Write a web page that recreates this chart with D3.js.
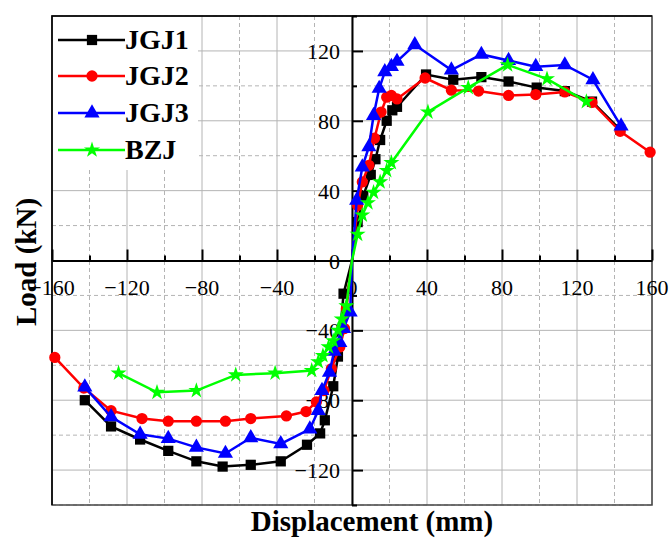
<!DOCTYPE html>
<html>
<head>
<meta charset="utf-8">
<script src="https://cdn.jsdelivr.net/npm/d3@7"></script>
<style>
  body { margin: 0; background: #fff; }
  svg { display: block; }
</style>
</head>
<body>
<script>
// skeleton curves, [displacement mm, load kN]
const jgj1 = [[-142.5,-80],[-128.5,-95],[-113,-102.5],[-98,-109],[-83,-115],[-69,-118],[-54,-117],[-38,-115],
  [-24,-105.5],[-17,-99],[-14.5,-91.5],[-10,-72],[-7.5,-55],[-4.5,-19],[0,0],[3,22],[6,37],[10,49],[12.5,58],
  [15,69],[18.5,80],[21.5,86],[24,88],[39.5,106.5],[54,103.5],[69,105],[83.5,102.5],[98.5,99],[113.5,97],[128,91],[143,75]];
const jgj2 = [[-158.5,-55.5],[-143,-73],[-128.5,-86],[-112,-90.5],[-98,-92],[-83,-92],[-67.5,-92],[-54,-90.5],
  [-35,-89],[-24.5,-86.5],[-19,-81],[-15,-74.5],[-11,-62],[-6.5,-49.5],[-4,-39],[-3,-27.5],[0,0],[3,31.5],
  [5.5,45],[9,54.5],[12,70],[15.5,85],[18.5,93.5],[21,94.5],[24,92.5],[39,104.5],[53,97.5],[67.5,97],
  [83.5,94.5],[98,95],[113.5,96.5],[128,90.5],[143,74],[159,62]];
const jgj3 = [[-142.5,-72.5],[-128.5,-89.5],[-113,-99.5],[-98,-102],[-83,-107],[-67.5,-110.5],[-54,-101.5],
  [-38,-105],[-22.5,-96.5],[-18,-86],[-16,-74.5],[-12,-64],[-9.5,-52],[-6.5,-47],[-4.5,-39],[-1,-29.5],[0,0],
  [2.5,34.5],[5.5,53.5],[9,65],[11.5,83],[14.5,98.5],[17.5,108],[21,111],[24,114],[33.5,123.5],[53,109],
  [69,118],[83.5,114.5],[98,111],[113.5,112],[128.5,103.5],[143.5,77]];
const bzj = [[-124.5,-64.5],[-104,-75.5],[-83,-74.5],[-62,-65.5],[-41,-64.5],[-21.5,-63],[-18,-58],[-15.5,-54.5],
  [-12.5,-49.5],[-10,-46],[-7.5,-40],[-5.5,-33.5],[-3,-26],[0,0],[3,15],[5.5,26],[8.5,33],[11.5,39],[15,45],
  [18.5,51.5],[21,56],[40.5,85],[62,99],[83,112],[104,104],[125,91]];

const seriesNames = ["JGJ1", "JGJ2", "JGJ3", "BZJ"];
const xTicks = [-160, -120, -80, -40, 0, 40, 80, 120, 160];
const yTicks = [-120, -80, -40, 0, 40, 80, 120];

const width = 670, height = 540;
const margin = {left: 52, right: 18, top: 16, bottom: 35};
const serif = "'Liberation Serif', 'Times New Roman', serif";
const seriesStyle = [
  {color: "#000000", symbol: d3.symbolSquare, size: 105},
  {color: "#ff0000", symbol: d3.symbolCircle, size: 100},
  {color: "#0000ff", symbol: d3.symbolTriangle, size: 100},
  {color: "#00ff00", symbol: d3.symbolStar, size: 80}
];

const svg = d3.select("body").append("svg")
  .attr("width", width)
  .attr("height", height);

const x = d3.scaleLinear().domain([-160, 160]).range([margin.left, width - margin.right]);
const y = d3.scaleLinear().domain([-140, 140]).range([height - margin.bottom, margin.top]);

// axis titles (drawn first, the -160 label sits on top of the y title)
svg.append("text")
  .attr("x", 372).attr("y", 531)
  .attr("text-anchor", "middle")
  .style("font-family", serif)
  .style("font-weight", "bold")
  .style("font-size", "29px")
  .text("Displacement (mm)");

svg.append("text")
  .attr("transform", `translate(36,262) rotate(-90)`)
  .attr("text-anchor", "middle")
  .style("font-family", serif)
  .style("font-weight", "bold")
  .style("font-size", "29px")
  .text("Load (kN)");

// grid: solid at labelled ticks, dashed halfway between
const grid = svg.append("g");
d3.range(-160, 161, 20).forEach(v => {
  grid.append("line")
    .attr("x1", x(v)).attr("x2", x(v)).attr("y1", y(140)).attr("y2", y(-140))
    .attr("stroke", "#b4b4b4").attr("stroke-width", 1)
    .attr("stroke-dasharray", v % 40 === 0 ? null : "4,3");
});
d3.range(-140, 141, 20).forEach(v => {
  grid.append("line")
    .attr("y1", y(v)).attr("y2", y(v)).attr("x1", x(-160)).attr("x2", x(160))
    .attr("stroke", "#b4b4b4").attr("stroke-width", 1)
    .attr("stroke-dasharray", v % 40 === 0 ? null : "4,3");
});

// legend background hides the grid behind it
svg.append("rect")
  .attr("x", x(-160)).attr("y", y(140))
  .attr("width", 146).attr("height", 154)
  .attr("fill", "#fff");

// frame
svg.append("rect")
  .attr("x", x(-160)).attr("y", y(140))
  .attr("width", x(160) - x(-160)).attr("height", y(-140) - y(140))
  .attr("fill", "none").attr("stroke", "#444").attr("stroke-width", 1.5);
svg.append("path")
  .attr("d", `M${x(-160)},${y(-140)}V${y(140)}H${x(160)}`)
  .attr("fill", "none").attr("stroke", "#000").attr("stroke-width", 1.5);

// axes through the origin, ticks pointing inward
const xAxis = d3.axisTop(x).tickValues(d3.range(-160, 161, 20)).tickFormat("")
  .tickSizeOuter(0).tickSizeInner(5);
const xAxisG = svg.append("g").attr("transform", `translate(0,${y(0)})`).call(xAxis);
xAxisG.selectAll(".tick line").attr("y2", d => d % 40 === 0 ? -11 : -5);
const yAxis = d3.axisRight(y).tickValues(d3.range(-140, 141, 20)).tickFormat("")
  .tickSizeOuter(0).tickSizeInner(5);
const yAxisG = svg.append("g").attr("transform", `translate(${x(0)},0)`).call(yAxis);
yAxisG.selectAll(".tick line").attr("x2", d => d % 40 === 0 ? 11 : 5);
[xAxisG, yAxisG].forEach(g => {
  g.selectAll("line, path").attr("stroke", "#000").attr("stroke-width", 2);
});

const fmt = v => v < 0 ? "\u2212" + Math.abs(v) : String(v);

svg.append("g").selectAll("text")
  .data(xTicks).enter().append("text")
  .attr("x", d => x(d)).attr("y", y(0) + 34)
  .attr("text-anchor", "middle")
  .style("font-family", serif)
  .style("font-size", "22px")
  .text(fmt);

svg.append("g").selectAll("text")
  .data(yTicks).enter().append("text")
  .attr("x", x(0) - 12).attr("y", d => y(d) + 8)
  .attr("text-anchor", "end")
  .style("font-family", serif)
  .style("font-size", "22px")
  .text(fmt);

// series
const allSeries = [jgj1, jgj2, jgj3, bzj];
const line = d3.line().x(d => x(d[0])).y(d => y(d[1]));

allSeries.forEach((data, i) => {
  const st = seriesStyle[i];
  const g = svg.append("g");
  g.append("path")
    .datum(data)
    .attr("d", line)
    .attr("fill", "none")
    .attr("stroke", st.color)
    .attr("stroke-width", 2.5);
  g.selectAll("path.pt")
    .data(data.filter(d => d[0] !== 0)).enter().append("path")
    .attr("class", "pt")
    .attr("transform", d => `translate(${x(d[0])},${y(d[1])})`)
    .attr("d", d3.symbol().type(st.symbol).size(st.size))
    .attr("fill", st.color);
});

// legend
const legend = svg.append("g");
const rowY = [40, 76, 113, 150];
seriesNames.forEach((name, i) => {
  const st = seriesStyle[i];
  const row = legend.append("g").attr("transform", `translate(0,${rowY[i]})`);
  row.append("line")
    .attr("x1", 58).attr("x2", 125).attr("y1", 0).attr("y2", 0)
    .attr("stroke", st.color).attr("stroke-width", 2.5);
  row.append("path")
    .attr("transform", "translate(92,0)")
    .attr("d", d3.symbol().type(st.symbol).size(st.size))
    .attr("fill", st.color);
  row.append("text")
    .attr("x", 125).attr("y", 9)
    .style("font-family", serif)
    .style("font-weight", "bold")
    .style("font-size", "28px")
    .text(name);
});
</script>
</body>
</html>
